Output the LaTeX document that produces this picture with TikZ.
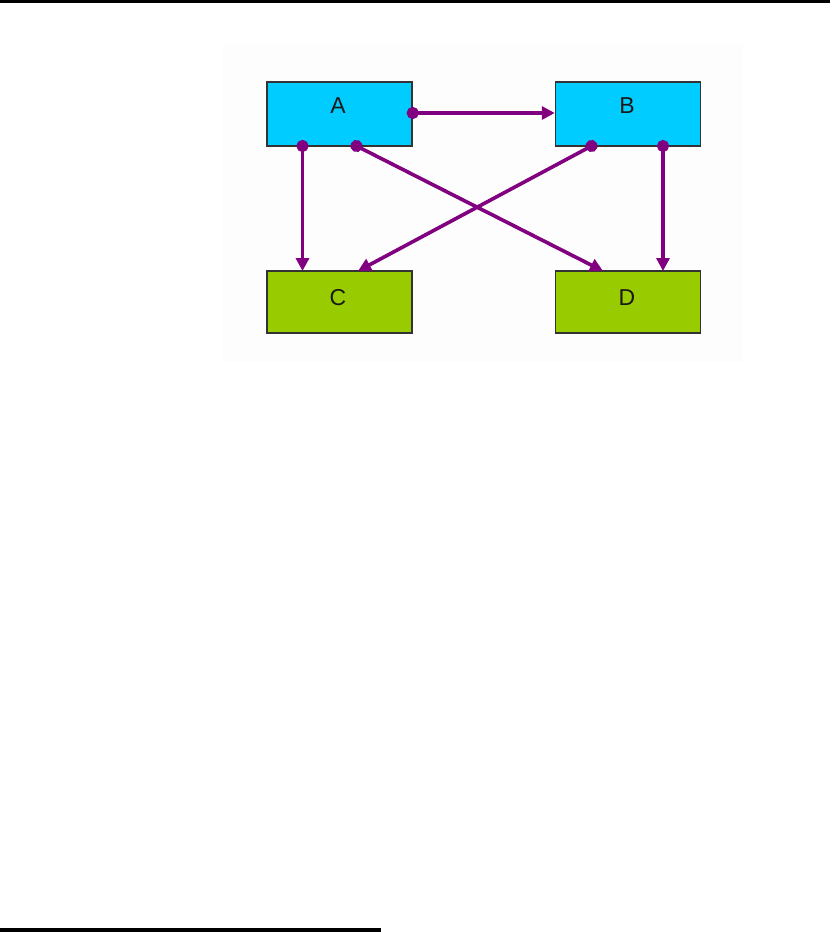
\documentclass[tikz,border=0pt]{standalone}
\usepackage{fontspec}
\setmainfont{Liberation Sans}
\usetikzlibrary{arrows.meta}
\definecolor{boxblue}{HTML}{00CCFF}
\definecolor{boxgreen}{HTML}{99CC00}
\definecolor{conn}{HTML}{800080}
\definecolor{bgpanel}{HTML}{FDFDFD}
\tikzset{
  blk/.style={draw=black!80, line width=1.5pt, minimum width=145pt, minimum height=64pt, inner sep=0pt},
  lab/.style={font=\fontsize{23}{23}\selectfont, text=black!90},
  link/.style={draw=conn, line width=3.6pt, {Circle[length=12pt,width=12pt]}-{Triangle[length=13pt,width=13pt]}, shorten <=-6pt},
  thicklink/.style={link, line width=4.2pt}
}
\begin{document}
\begin{tikzpicture}[x=1pt,y=-1pt]
\useasboundingbox (0,0) rectangle (837,932);
\fill[white] (0,0) rectangle (837,932);
\fill[bgpanel] (223,44) rectangle (743,362);
\draw[line width=2.5pt] (0,1.25) -- (830,1.25);
\draw[line width=3.5pt] (0,929.75) -- (381,929.75);
\node[blk, fill=boxblue, minimum height=64pt] (A) at (339.5,114) {};
\node[blk, fill=boxblue, minimum height=64pt] (B) at (628,114) {};
\node[blk, fill=boxgreen, minimum height=62pt] (C) at (339.5,302) {};
\node[blk, fill=boxgreen, minimum height=62pt] (D) at (628,302) {};
\node[lab] (tA) at (338,106) {A};
\node[lab] (tB) at (627,106) {B};
\node[lab] (tC) at (338,298) {C};
\node[lab] (tD) at (627,298) {D};
\coordinate (Ar) at (A.east |- 0,113);
\coordinate (Bl) at (B.west |- 0,113);
\coordinate (Ab1) at (302.5,146);
\coordinate (Ab2) at (356.5,146);
\coordinate (Bb1) at (591.5,146);
\coordinate (Bb2) at (663,146);
\coordinate (Ct1) at (302.5,271);
\coordinate (Ct2) at (358,271);
\coordinate (Dt1) at (603,271);
\coordinate (Dt2) at (663,271);
\draw[thicklink] (Ar) -- (Bl);
\draw[link] (Ab1) -- (Ct1);
\draw[link] (Ab2) -- (Dt1);
\draw[link] (Bb1) -- (Ct2);
\draw[link] (Bb2) -- (Dt2);
\end{tikzpicture}
\end{document}
